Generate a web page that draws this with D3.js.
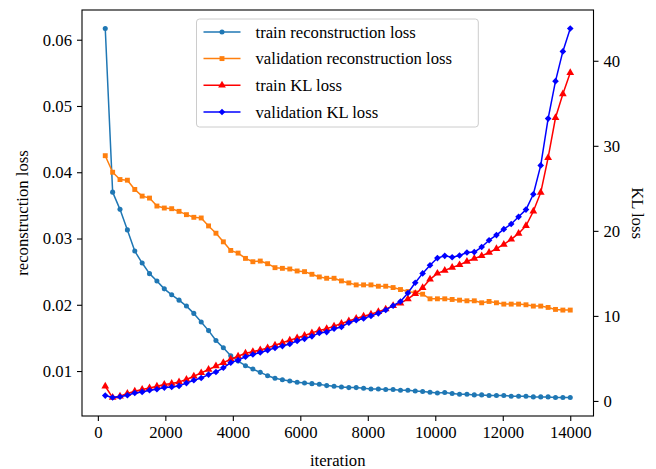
<!DOCTYPE html>
<html>
<head>
<meta charset="utf-8">
<script src="https://cdn.jsdelivr.net/npm/d3@7"></script>
<style>
  html, body { margin: 0; padding: 0; background: #fff; }
  svg { display: block; font-family: "Liberation Serif", "Times New Roman", serif; }
</style>
</head>
<body>
<svg id="chart" width="656" height="469"></svg>
<script>
// Training iterations at which the losses were logged
const iterations = [219, 438, 656, 875, 1094, 1313, 1531, 1750, 1969, 2188,
  2406, 2625, 2844, 3063, 3281, 3500, 3719, 3938, 4156, 4375,
  4594, 4813, 5031, 5250, 5469, 5688, 5906, 6125, 6344, 6563,
  6781, 7000, 7219, 7438, 7656, 7875, 8094, 8313, 8531, 8750,
  8969, 9188, 9406, 9625, 9844, 10063, 10281, 10500, 10719, 10938,
  11156, 11375, 11594, 11813, 12031, 12250, 12469, 12688, 12906, 13125,
  13344, 13563, 13781, 14000];

const trainRecon = [0.0617, 0.0370, 0.0344, 0.0313, 0.0281, 0.0263, 0.0247, 0.0236, 0.0224, 0.0215,
  0.0207, 0.0198, 0.0187, 0.0174, 0.0161, 0.0146, 0.0135, 0.0123, 0.0115, 0.0108,
  0.0103, 0.0098, 0.0093, 0.0089, 0.0087, 0.0085, 0.0083, 0.0082, 0.0081, 0.0080,
  0.0078, 0.0077, 0.0076, 0.0075, 0.0075, 0.0074, 0.0073, 0.0073, 0.0072, 0.0072,
  0.0071, 0.0071, 0.0070, 0.0069, 0.0068, 0.0067, 0.00675, 0.0066, 0.0065, 0.0065,
  0.0064, 0.0064, 0.0063, 0.0063, 0.0063, 0.0062, 0.0062, 0.0062, 0.0061, 0.0061,
  0.0061, 0.0060, 0.0060, 0.0060];

const valRecon = [0.0425, 0.0400, 0.0389, 0.0388, 0.0374, 0.0364, 0.0361, 0.0349, 0.0346, 0.0345,
  0.0341, 0.0336, 0.0332, 0.0331, 0.0319, 0.0308, 0.0295, 0.0282, 0.0278, 0.0270,
  0.0265, 0.0266, 0.0262, 0.0256, 0.0255, 0.0254, 0.0251, 0.0250, 0.0246, 0.0242,
  0.0240, 0.0240, 0.0236, 0.0233, 0.0230, 0.0230, 0.0230, 0.0228, 0.0228, 0.0226,
  0.0223, 0.0220, 0.0218, 0.0216, 0.0209, 0.0209, 0.0209, 0.0208, 0.0207, 0.0206,
  0.0206, 0.0203, 0.0205, 0.0203, 0.0201, 0.0201, 0.0201, 0.0200, 0.0198, 0.0198,
  0.0196, 0.0193, 0.0192, 0.0192];

const trainKL = [1.73, 0.40, 0.55, 0.87, 1.14, 1.34, 1.53, 1.73, 1.93, 2.05,
  2.24, 2.52, 2.90, 3.30, 3.70, 4.10, 4.50, 4.90, 5.26, 5.60,
  5.80, 6.00, 6.24, 6.55, 6.85, 7.15, 7.40, 7.70, 8.00, 8.30,
  8.50, 8.80, 9.10, 9.40, 9.70, 9.96, 10.2, 10.5, 10.8, 11.2,
  11.5, 12.0, 12.6, 13.3, 14.3, 15.0, 15.35, 15.7, 16.0, 16.4,
  16.75, 17.06, 17.45, 17.9, 18.4, 19.0, 19.7, 20.6, 22.3, 24.5,
  28.6, 33.3, 36.1, 38.6];

const valKL = [0.63, 0.40, 0.50, 0.67, 0.94, 1.06, 1.26, 1.38, 1.57, 1.65,
  1.77, 2.10, 2.44, 2.70, 3.10, 3.40, 3.90, 4.50, 4.80, 5.20,
  5.46, 5.70, 5.96, 6.24, 6.45, 6.70, 7.06, 7.30, 7.60, 8.00,
  8.10, 8.50, 8.70, 9.20, 9.50, 9.70, 10.0, 10.3, 10.7, 11.2,
  11.7, 12.7, 13.9, 15.0, 15.96, 16.8, 17.06, 16.9, 17.1, 17.45,
  17.5, 18.1, 18.9, 19.5, 20.2, 20.8, 21.65, 22.5, 24.3, 27.7,
  33.2, 37.6, 41.1, 43.8];

const xTicks = [0, 2000, 4000, 6000, 8000, 10000, 12000, 14000];
const reconTicks = [0.01, 0.02, 0.03, 0.04, 0.05, 0.06];
const klTicks = [0, 10, 20, 30, 40];

const seriesInfo = [
  { name: "train reconstruction loss", values: trainRecon, color: "#1f77b4", marker: "circle", axis: "left" },
  { name: "validation reconstruction loss", values: valRecon, color: "#ff7f0e", marker: "square", axis: "left" },
  { name: "train KL loss", values: trainKL, color: "#ff0000", marker: "triangle", axis: "right" },
  { name: "validation KL loss", values: valKL, color: "#0000ff", marker: "diamond", axis: "right" }
];

const W = 656, H = 469;
const m = { left: 82, right: W - 593.5, top: 10, bottom: H - 416 };
const FS = 16.7;

// matplotlib-style 5% padding around the data
function padded(ext) {
  const d = (ext[1] - ext[0]) * 0.05;
  return [ext[0] - d, ext[1] + d];
}

const x = d3.scaleLinear().domain(padded(d3.extent(iterations))).range([m.left, W - m.right]);
const yL = d3.scaleLinear().domain(padded(d3.extent(trainRecon.concat(valRecon)))).range([H - m.bottom, m.top]);
const yR = d3.scaleLinear().domain(padded(d3.extent(trainKL.concat(valKL)))).range([H - m.bottom, m.top]);

const svg = d3.select("#chart");
svg.append("rect").attr("width", W).attr("height", H).attr("fill", "#fff");

// marker shapes; the diamond is a square turned 45 degrees
const symbolFor = {
  circle: { d: d3.symbol().type(d3.symbolCircle).size(20)(), rot: 0 },
  square: { d: d3.symbol().type(d3.symbolSquare).size(24)(), rot: 0 },
  triangle: { d: d3.symbol().type(d3.symbolTriangle).size(26)(), rot: 0 },
  diamond: { d: d3.symbol().type(d3.symbolSquare).size(22)(), rot: 45 }
};

const plot = svg.append("g");
seriesInfo.forEach(s => {
  const y = s.axis === "left" ? yL : yR;
  const sym = symbolFor[s.marker];
  const pts = iterations.map((it, i) => [it, s.values[i]]);
  plot.append("path")
    .datum(pts)
    .attr("fill", "none")
    .attr("stroke", s.color)
    .attr("stroke-width", 1.5)
    .attr("stroke-linejoin", "round")
    .attr("d", d3.line().x(d => x(d[0])).y(d => y(d[1])));
  plot.append("g").selectAll("path")
    .data(pts)
    .join("path")
    .attr("transform", d => `translate(${x(d[0])},${y(d[1])}) rotate(${sym.rot})`)
    .attr("d", sym.d)
    .attr("fill", s.color);
});

// axes
function styleAxis(g) {
  g.selectAll(".domain").remove();
  g.selectAll(".tick line").attr("stroke", "#000").attr("stroke-width", 1.1);
  g.selectAll(".tick text").attr("fill", "#000").attr("font-size", FS)
    .attr("font-family", "Liberation Serif, Times New Roman, serif");
}

svg.append("g")
  .attr("transform", `translate(0,${H - m.bottom})`)
  .call(d3.axisBottom(x).tickValues(xTicks).tickFormat(d3.format("d")).tickSizeOuter(0).tickSize(5).tickPadding(5))
  .call(styleAxis);

svg.append("g")
  .attr("transform", `translate(${m.left},0)`)
  .call(d3.axisLeft(yL).tickValues(reconTicks).tickFormat(d3.format(".2f")).tickSizeOuter(0).tickSize(5).tickPadding(5))
  .call(styleAxis);

svg.append("g")
  .attr("transform", `translate(${W - m.right},0)`)
  .call(d3.axisRight(yR).tickValues(klTicks).tickFormat(d3.format("d")).tickSizeOuter(0).tickSize(5).tickPadding(5))
  .call(styleAxis);

// frame
svg.append("rect")
  .attr("x", m.left).attr("y", m.top)
  .attr("width", W - m.left - m.right).attr("height", H - m.top - m.bottom)
  .attr("fill", "none").attr("stroke", "#000").attr("stroke-width", 1.1);

// axis titles
svg.append("text")
  .attr("x", (m.left + W - m.right) / 2).attr("y", 466)
  .attr("text-anchor", "middle").attr("font-size", FS).text("iteration");

svg.append("text")
  .attr("transform", `translate(28,${(m.top + H - m.bottom) / 2}) rotate(-90)`)
  .attr("text-anchor", "middle").attr("font-size", FS).text("reconstruction loss");

svg.append("text")
  .attr("transform", `translate(632,${(m.top + H - m.bottom) / 2}) rotate(90)`)
  .attr("text-anchor", "middle").attr("font-size", FS).text("KL loss");

// legend
const lg = svg.append("g");
lg.append("rect")
  .attr("x", 196.5).attr("y", 19).attr("width", 281.8).attr("height", 108)
  .attr("rx", 3).attr("fill", "#fff").attr("fill-opacity", 0.8)
  .attr("stroke", "#cccccc").attr("stroke-width", 1);
seriesInfo.forEach((s, i) => {
  const cy = 31.9 + i * 26.7;
  const sym = symbolFor[s.marker];
  lg.append("line").attr("x1", 203.5).attr("x2", 240.5).attr("y1", cy).attr("y2", cy)
    .attr("stroke", s.color).attr("stroke-width", 1.5);
  lg.append("path").attr("transform", `translate(222,${cy}) rotate(${sym.rot})`).attr("d", sym.d).attr("fill", s.color);
  lg.append("text").attr("x", 255.5).attr("y", cy).attr("dy", "0.35em")
    .attr("font-size", FS).text(s.name);
});
</script>
</body>
</html>
